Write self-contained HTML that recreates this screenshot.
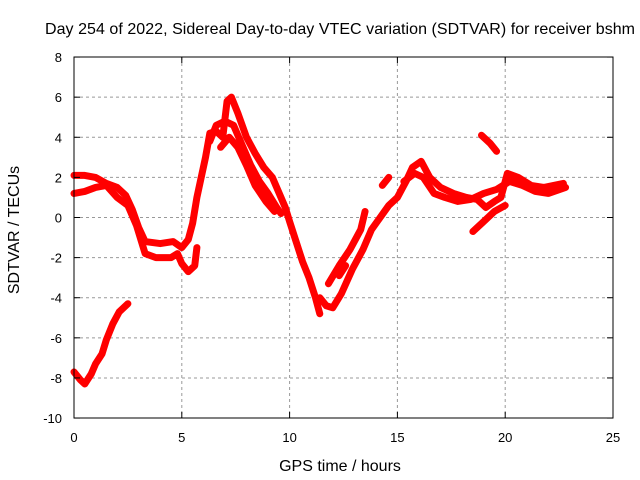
<!DOCTYPE html>
<html><head><meta charset="utf-8"><style>
body{margin:0;background:#fff}
svg{display:block;font-family:"Liberation Sans",sans-serif;font-size:13px}
.t{font-size:16px}
</style></head><body>
<svg id="c" width="640" height="480">
<text class="t" x="340" y="34" text-anchor="middle" textLength="590">Day 254 of 2022, Sidereal Day-to-day VTEC variation (SDTVAR) for receiver bshm</text>
<text class="t" x="340" y="471" text-anchor="middle">GPS time / hours</text>
<text class="t" transform="translate(19,230) rotate(-90)" text-anchor="middle">SDTVAR / TECUs</text>
<g id="grid"></g><g id="data"></g>
<rect x="74" y="57" width="539" height="361" fill="none" stroke="#000"/>
<g id="ticks"></g>
</svg>
<script>
const xTicks=[0,5,10,15,20,25];
const yTicks=[-10,-8,-6,-4,-2,0,2,4,6,8];
const trackA=[[0,-7.7],[0.3,-8.1],[0.5,-8.3],[0.8,-7.8],[1.0,-7.3],[1.3,-6.8],[1.5,-6.1],[1.8,-5.3],[2.1,-4.7],[2.5,-4.3]];
const trackB=[[0,2.1],[0.5,2.1],[1.0,2.0],[1.5,1.7],[2.0,1.5],[2.4,1.1],[2.7,0.4],[3.0,-0.5],[3.3,-1.2],[4.0,-1.3],[4.6,-1.2],[5.0,-1.5],[5.3,-1.1],[5.5,-0.3],[5.7,1.0],[5.9,2.0],[6.1,3.0],[6.3,4.2],[6.6,4.3],[6.9,4.0],[7.1,5.8],[7.3,6.0],[7.6,5.2],[8.0,4.0],[8.4,3.2],[8.8,2.5],[9.2,2.0],[9.6,1.0],[9.8,0.5],[10.0,-0.2],[10.3,-1.2],[10.6,-2.2],[10.9,-3.0],[11.2,-4.0],[11.4,-4.8]];
const trackC=[[0,1.2],[0.5,1.3],[1.0,1.5],[1.5,1.6],[2.0,1.0],[2.5,0.6],[2.9,-0.4],[3.3,-1.8],[3.8,-2.0],[4.5,-2.0],[4.8,-1.8],[5.0,-2.3],[5.3,-2.7],[5.6,-2.4],[5.7,-1.5]];
const trackD=[[6.3,3.8],[6.6,4.6],[7.0,4.8],[7.4,4.6],[7.8,3.6],[8.2,2.6],[8.6,1.8],[9.0,1.2],[9.4,0.5],[9.6,0.2]];
const trackE=[[6.8,3.5],[7.2,4.0],[7.6,3.5],[8.0,2.6],[8.4,1.6],[8.9,0.8],[9.3,0.3]];
const trackF=[[11.4,-4.0],[11.7,-4.4],[12.0,-4.5],[12.4,-3.8],[12.9,-2.6],[13.4,-1.6],[13.8,-0.6],[14.2,0.0],[14.6,0.6],[15.0,1.0],[15.4,1.8],[15.7,2.5],[16.1,2.8],[16.5,2.0],[17.0,1.5],[17.6,1.2],[18.2,1.0],[18.7,0.9],[19.1,0.5],[19.5,0.8],[19.8,1.0],[20.1,2.2],[20.6,2.0],[21.2,1.6],[21.8,1.5],[22.7,1.7]];
const trackG=[[11.8,-3.3],[12.3,-2.4],[12.8,-1.6],[13.3,-0.6],[13.5,0.3]];
const trackH=[[14.3,1.6],[14.6,2.0]];
const trackI=[[15.3,1.8],[15.8,2.2],[16.2,2.0],[16.7,1.2],[17.2,1.0],[17.8,0.8],[18.4,0.9],[19.0,1.2],[19.6,1.4],[20.2,1.8],[20.8,1.6],[21.4,1.3],[22.0,1.2],[22.8,1.5]];
const trackJ=[[18.9,4.1],[19.3,3.7],[19.6,3.3]];
const trackK=[[18.5,-0.7],[19.0,-0.2],[19.5,0.3],[20.0,0.6]];
const trackL=[[12.3,-2.9],[12.6,-2.4]];
const tracks=[trackA,trackB,trackC,trackD,trackE,trackF,trackG,trackH,trackI,trackJ,trackK,trackL];
const X=h=>74+h*(539/25), Y=v=>217.5-v*(361/18);
const NS='http://www.w3.org/2000/svg';
const grid=document.getElementById('grid'),ticks=document.getElementById('ticks'),dg=document.getElementById('data');
function mk(t,a,p){const e=document.createElementNS(NS,t);for(const k in a)e.setAttribute(k,a[k]);p.appendChild(e);return e;}
xTicks.forEach(t=>{const x=X(t);
 if(t>0&&t<25){const g=mk('line',{x1:x,x2:x,y1:57,y2:418,stroke:'#999','stroke-dasharray':'3,3'},grid);
 
 }
 const l=mk('text',{x:x,y:442,'text-anchor':'middle'},ticks);l.textContent=t;
 
 
 mk('line',{x1:x,x2:x,y1:418,y2:412,stroke:'#000'},ticks);mk('line',{x1:x,x2:x,y1:57,y2:63,stroke:'#000'},ticks);});
yTicks.forEach(t=>{const y=Y(t);
 if(t>-10&&t<8){const g=mk('line',{x1:74,x2:613,y1:y,y2:y,stroke:'#999','stroke-dasharray':'3,3'},grid);
 
 }
 const l=mk('text',{x:62,y:y+5,'text-anchor':'end'},ticks);l.textContent=t;
 
 
 mk('line',{x1:74,x2:80,y1:y,y2:y,stroke:'#000'},ticks);mk('line',{x1:613,x2:607,y1:y,y2:y,stroke:'#000'},ticks);});
tracks.forEach((tr,i)=>{
 const p=mk('polyline',{points:tr.map(d=>X(d[0])+','+Y(d[1])).join(' '),fill:'none',stroke:'#f00','stroke-width':7,'stroke-linejoin':'round','stroke-linecap':'round'},dg);
 
 
});
</script>
</body></html>
